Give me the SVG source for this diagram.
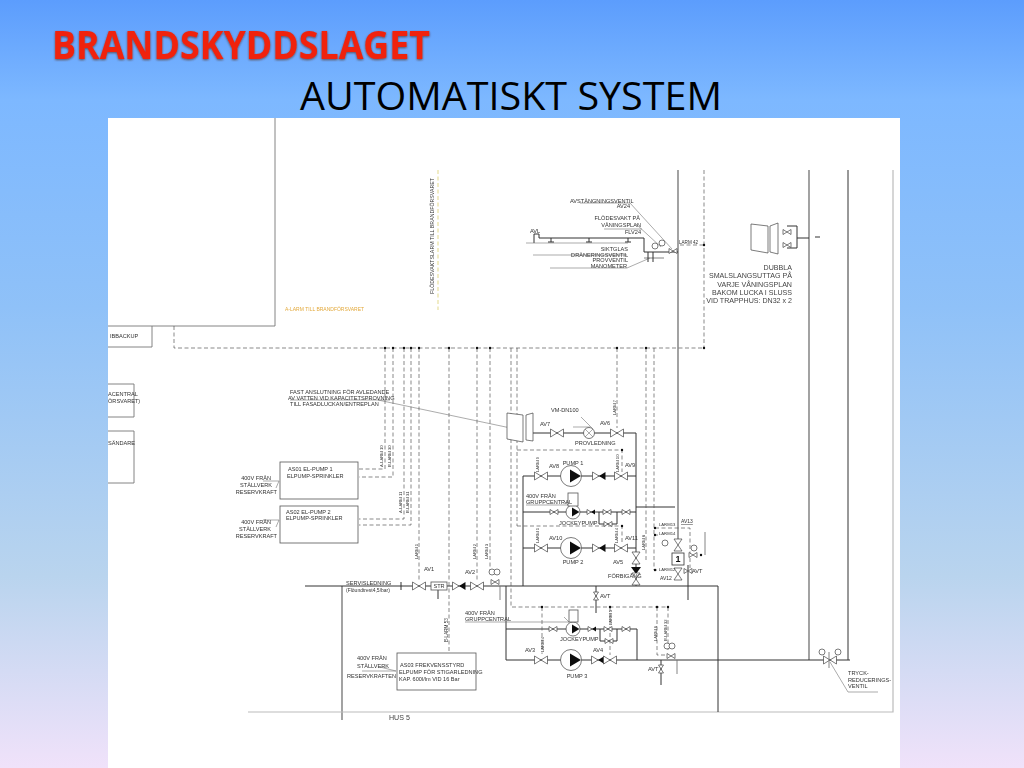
<svg xmlns="http://www.w3.org/2000/svg" width="1024" height="768" viewBox="0 0 1024 768">
<style>
text{font-family:"Liberation Sans",Arial,sans-serif;fill:#333;font-size:5.6px}
.t{font-size:7.1px;fill:#444}
.m{font-size:6px}
.e{text-anchor:end}.c{text-anchor:middle}
.r{font-size:4.2px}
.p{fill:none;stroke:#333;stroke-width:1}
.g{fill:none;stroke:#8c8c8c;stroke-width:1.6}
.b{fill:none;stroke:#777;stroke-width:.9}
.f{fill:none;stroke:#bbb;stroke-width:1.2}
.l{fill:none;stroke:#666;stroke-width:.55}
.d{fill:none;stroke:#555;stroke-width:.7;stroke-dasharray:4 2.5}
.y{fill:none;stroke:#e8e0a0;stroke-width:1.2;stroke-dasharray:4 2.5}
.vf{fill:#fff;stroke:#444;stroke-width:.7}
.k{fill:#111}
.o{fill:#fff;stroke:#555;stroke-width:.8}
</style>
<defs>
<linearGradient id="bg" x1="0" y1="0" x2="0" y2="1">
<stop offset="0" stop-color="#5c9dfd"/><stop offset=".13" stop-color="#7db8ff"/><stop offset=".4" stop-color="#8fc1f8"/><stop offset=".75" stop-color="#b9d4ee"/><stop offset="1" stop-color="#f0e2fa"/>
</linearGradient>
<filter id="soft" x="-2%" y="-2%" width="104%" height="104%"><feGaussianBlur stdDeviation=".3"/></filter>
<filter id="sh" x="-5%" y="-20%" width="110%" height="140%"><feDropShadow dx="0" dy="1" stdDeviation="1" flood-color="#552211" flood-opacity=".7"/></filter>
<g id="v"><path class="vf" d="M-6.5,-4 L0,0 L-6.5,4Z M6.5,-4 L0,0 L6.5,4Z"/></g>
<g id="vv"><path class="vf" d="M-4,-6 L0,0 L4,-6Z M-4,6 L0,0 L4,6Z"/></g>
<g id="sv"><path class="vf" d="M-4,-2.5 L0,0 L-4,2.5Z M4,-2.5 L0,0 L4,2.5Z"/></g>
<g id="sk"><path class="vf" d="M-4,-2.5 L0,0 L-4,2.5Z"/><path class="k" d="M4,-2.5 L0,0 L4,2.5Z"/></g>
<g id="ck"><path class="vf" d="M-6.5,-4 L0,0 L-6.5,4Z"/><path class="k" d="M6.5,-4 L0,0 L6.5,4Z"/></g>
<g id="pm"><circle class="vf" r="10.5"/><path class="k" d="M-1,-6.5 L10,0 L-1,6.5Z"/></g>
<g id="jp"><circle class="vf" r="7"/><path class="k" d="M-1,-4.5 L6.5,0 L-1,4.5Z"/></g>
<g id="ga"><circle class="vf" r="3"/></g>
<g id="dot"><circle class="k" r="1.2"/></g>
</defs>
<rect id="background" width="1024" height="768" fill="url(#bg)"/>
<g id="heading">
<text x="52" y="59" style="font-family:'Open Sans',sans-serif;font-size:40px;font-weight:700;fill:#f0230f" textLength="378" lengthAdjust="spacingAndGlyphs" filter="url(#sh)">BRANDSKYDDSLAGET</text>
<text x="300" y="110" style="font-family:'Open Sans',sans-serif;font-size:38px;fill:#000" textLength="422" lengthAdjust="spacingAndGlyphs">AUTOMATISKT SYSTEM</text>
</g>
<rect id="panel" x="108" y="118" width="792" height="650" fill="#fff"/>
<g filter="url(#soft)">
<g id="connectors">
<path class="g" d="M678,170V540M809,170V660M342,586V720"/>
<path class="f" d="M893,170V712H248"/>
<path class="b" d="M108,326H275V118"/>
<path class="p" d="M848,170V660M305,586H718V712M506,586V660H850M506,629H637V660M523,586V476H636M636,433V586M523,548H636M523,512H636M636,507H675M530,433H636M599,512V524H617V512M600,629V641H617V629M539,238H644V252H678M539,238V234H534V243M797,226V248M787,226H797M787,248H797M797,238H809M815,237H820M688,565V600M596,586V613M661,660V685M438,590V599M401,582V590"/>
<path class="b" d="M705,532V555M500,586V600M677,660V674M644,258H664"/>
<path class="d" d="M174,326V348H704M704,170V348M680,245H704M385,348V469H359M393,348V477H359M404,348V519H359M411,348V525H359M419,348V581M449,348V652M477,348V581M490,348V575M511,348V607H668V650M517,348V526M517,450H622V472M517,526H622V544M617,348V428M646,348V562M654,348V570H660M655,528H690V568M542,607V654M610,607V655M657,607V655H668M654,535H660"/>
<path class="y" d="M438,170V310"/>
<g id="junctions" class="k"><circle cx="385" cy="348" r="1.2"/><circle cx="393" cy="348" r="1.2"/><circle cx="404" cy="348" r="1.2"/><circle cx="411" cy="348" r="1.2"/><circle cx="419" cy="348" r="1.2"/><circle cx="449" cy="348" r="1.2"/><circle cx="477" cy="348" r="1.2"/><circle cx="490" cy="348" r="1.2"/><circle cx="617" cy="348" r="1.2"/><circle cx="646" cy="348" r="1.2"/><circle cx="704" cy="348" r="1.2"/><circle cx="704" cy="245" r="1.2"/><circle cx="622" cy="450" r="1.2"/><circle cx="622" cy="526" r="1.2"/><circle cx="542" cy="607" r="1.2"/><circle cx="610" cy="607" r="1.2"/><circle cx="657" cy="607" r="1.2"/><circle cx="668" cy="607" r="1.2"/></g>
<path class="l" d="M378,400 520,430M290,400H390M580,203H630L672,249M636,224 661,247M604,229H642M550,268H627L650,258M533,255H627M526,243H628M263,481H279L276,488M263,520H279L276,527M362,671H396M573,427 590,427M581,417 593,429M526,505H568L563,500M465,622H569L564,617M830,662 848,692H878M380,667 396,671"/>
</g>
<g id="left-boxes">
<g id="box-backup"><path class="b" d="M108,347H152V326"/><text x="110" y="338">IBBACKUP</text></g>
<g id="box-central"><path class="b" d="M108,384H134V417H108"/><text x="108" y="396">ACENTRAL</text><text x="108" y="403">ÖRSVARET)</text></g>
<g id="box-sandare"><path class="b" d="M108,431H134V483H108"/><text x="108" y="445">SÄNDARE</text></g>
</g>
<g id="node-as01"><rect class="o" x="280" y="462" width="78" height="37"/><text x="288" y="471">AS01  EL-PUMP 1</text><text x="287" y="478">ELPUMP-SPRINKLER</text><text x="271" y="480" class="e">400V FRÅN</text><text x="272" y="487" class="e">STÄLLVERK</text><text x="277" y="494" class="e">RESERVKRAFT</text></g>
<g id="node-as02"><rect class="o" x="280" y="506" width="78" height="37"/><text x="286" y="514">AS02  EL-PUMP 2</text><text x="286" y="520">ELPUMP-SPRINKLER</text><text x="271" y="524" class="e">400V FRÅN</text><text x="271" y="531" class="e">STÄLLVERK</text><text x="277" y="538" class="e">RESERVKRAFT</text></g>
<g id="node-as03"><rect class="o" x="397" y="653" width="79" height="37"/><text x="400" y="667">AS03  FREKVENSSTYRD</text><text x="399" y="674">ELPUMP FÖR STIGARLEDNING</text><text x="399" y="681">KAP. 600l/lm VID 16 Bar</text><text x="357" y="660">400V FRÅN</text><text x="357" y="668">STÄLLVERK</text><text x="347" y="678">RESERVKRAFTEN</text></g>
<g id="notes">
<text x="285" y="311" style="fill:#e3a93c;font-size:5px">A-LARM TILL BRANDFÖRSVARET</text>
<text transform="translate(434,294) rotate(-90)" style="font-size:5.2px" textLength="116">FLÖDESVAKTSLARM TILL BRANDFÖRSVARET</text>
<text x="290" y="394">FAST ANSLUTNING  FÖR AVLEDANDE</text><text x="288" y="400">AV VATTEN VID KAPACITETSPROVNING</text><text x="290" y="406">TILL FASADLUCKAN/ENTREPLAN</text>
<text x="346" y="585">SERVISLEDNING</text><text x="346" y="592" style="font-size:5px">(Flöundtrest4,5/bar)</text>
<text x="389" y="720" class="t">HUS 5</text>
<text x="465" y="615">400V FRÅN</text><text x="465" y="621">GRUPPCENTRAL</text>
<text transform="translate(448,642) rotate(-90)" style="font-size:4.6px">B-LARM 53</text>
<text transform="translate(383,467) rotate(-90)" class="r">A-LARM 10</text>
<text transform="translate(391,467) rotate(-90)" class="r">B-LARM 30</text>
<text transform="translate(402,513) rotate(-90)" class="r">A-LARM 11</text>
<text transform="translate(409,513) rotate(-90)" class="r">B-LARM 31</text>
<text transform="translate(418,559) rotate(-90)" class="r">LARM 1</text>
<text transform="translate(476,559) rotate(-90)" class="r">LARM 2</text>
<text transform="translate(488,559) rotate(-90)" class="r">LARM 3</text>
</g>
<g id="top-branch">
<use href="#ga" x="655" y="246"/><use href="#ga" x="662" y="243"/><use href="#sv" x="673" y="251"/>
<path class="p" d="M551,238V242M548,242H554M589,238V242M586,242H592M628,238V242M625,242H631M648,252V262M653,252V262"/>
<text x="570" y="203">AVSTÄNGNINGSVENTIL</text><text x="630" y="208" class="e">AV24</text>
<text x="640" y="220" class="e">FLÖDESVAKT PÅ</text><text x="641" y="227" class="e">VÅNINGSPLAN</text><text x="641" y="234" class="e">FLV24</text>
<text x="530" y="233">AVL</text>
<text x="628" y="251" class="e">SIKTGLAS</text><text x="628" y="257" class="e">DRÄNERINGSVENTIL</text><text x="628" y="262" class="e">PROVVENTIL</text><text x="627" y="268" class="e">MANOMETER</text>
<text x="679" y="244" style="font-size:4.6px">LARM 42</text>
</g>
<g id="hose-cabinet-top">
<path class="vf" d="M751,224 768,226V253L751,250Z M770,226 778,223V254L770,252Z"/>
<use href="#sv" x="787" y="232"/><use href="#sv" x="787" y="245"/>
<text x="792" y="270" class="t e">DUBBLA</text><text x="792" y="278" class="t e">SMALSLANGSUTTAG PÅ</text><text x="792" y="287" class="t e">VARJE VÅNINGSPLAN</text><text x="792" y="295" class="t e">BAKOM LUCKA I SLUSS</text><text x="792" y="303" class="t e">VID TRAPPHUS: DN32 x 2</text>
</g>
<g id="hose-cabinet-test">
<path class="vf" d="M507,413 523,415V442L507,439Z M526,415 533,413V441L526,440Z"/>
<use href="#v" x="557" y="433"/><circle class="vf" cx="589" cy="433" r="5.5"/><path class="l" d="M585,429 593,437M593,429 585,437"/><use href="#v" x="617" y="433"/>
<text x="540" y="426">AV7</text><text x="551" y="412">VM-DN100</text><text x="600" y="425">AV6</text><text x="575" y="445">PROVLEDNING</text>
<text transform="translate(616,415) rotate(-90)" class="r">LARM 7</text>
</g>
<g id="pump-1"><use href="#v" x="541" y="476"/><use href="#pm" x="571" y="476"/><use href="#ck" x="599" y="476"/><use href="#v" x="621" y="476"/>
<text x="573" y="465" class="c">PUMP 1</text><text x="549" y="468">AV8</text><text x="625" y="467">AV9</text>
<text transform="translate(539,472) rotate(-90)" class="r">LARM 9</text><text transform="translate(619,472) rotate(-90)" class="r">LARM 10</text></g>
<g id="jockey-1"><use href="#sv" x="554" y="512"/><use href="#jp" x="573" y="512"/><use href="#sk" x="591" y="512"/><use href="#sv" x="607" y="512"/><use href="#sv" x="608" y="524"/><use href="#sv" x="626" y="512"/>
<rect class="o" x="568" y="493" width="10" height="13"/>
<text x="526" y="498">400V FRÅN</text><text x="526" y="504">GRUPPCENTRAL</text><text x="559" y="525">JOCKEYPUMP</text></g>
<g id="pump-2"><use href="#v" x="541" y="548"/><use href="#pm" x="571" y="548"/><use href="#ck" x="599" y="548"/><use href="#v" x="621" y="548"/>
<text x="573" y="564" class="c">PUMP 2</text><text x="549" y="540">AV10</text><text x="625" y="540">AV11</text>
<text transform="translate(539,543) rotate(-90)" class="r">LARM 1</text><text transform="translate(618,543) rotate(-90)" class="r">LARM 4</text><text transform="translate(645,550) rotate(-90)" class="r">LARM 8</text></g>
<g id="bypass"><use href="#vv" x="636" y="558"/><path class="k" d="M631,567H641L636,574Z"/><use href="#vv" x="636" y="579"/><text x="613" y="564">AV5</text><text x="608" y="578">FÖRBIGÅNG</text></g>
<g id="alarm-valve"><use href="#vv" x="678" y="545"/><rect class="o" x="672" y="553" width="12" height="12" style="stroke:#333"/><text x="678" y="562" class="c" style="font-size:9px;font-weight:700;fill:#111">1</text><use href="#vv" x="678" y="574"/><use href="#ga" x="665" y="543"/><use href="#ga" x="694" y="548"/><use href="#sv" x="693" y="555"/><use href="#dot" x="701" y="555"/><use href="#sv" x="688" y="571"/><text x="692" y="573">AVT</text>
<text x="659" y="526" class="r">LARM13</text><text x="681" y="523" style="text-decoration:underline;font-size:5px">AV13</text><text x="659" y="535" class="r">LARM14</text><text x="659" y="571" class="r">LARM12</text><text x="660" y="580" style="text-decoration:underline;font-size:5px">AV12</text>
<use href="#dot" x="655" y="528"/><use href="#dot" x="655" y="535"/><use href="#dot" x="655" y="570"/></g>
<g id="service-line"><use href="#v" x="419" y="586"/><rect class="o" x="431" y="582" width="16" height="8"/><text x="439" y="588" class="c">STR</text><use href="#ck" x="459" y="586"/><use href="#v" x="477" y="586"/><use href="#ga" x="492" y="572"/><use href="#ga" x="497" y="572"/><use href="#sv" x="495" y="582"/><text x="424" y="571">AV1</text><text x="465" y="574">AV2</text></g>
<g id="pump-3"><use href="#v" x="541" y="660"/><use href="#pm" x="571" y="660"/><use href="#ck" x="598" y="660"/><use href="#v" x="610" y="660"/><text x="577" y="678" class="c">PUMP 3</text><text x="525" y="652">AV3</text><text x="593" y="652">AV4</text><text transform="translate(544,652) rotate(-90)" class="r">LARM 4</text></g>
<g id="jockey-2"><use href="#sv" x="553" y="629"/><use href="#jp" x="573" y="629"/><use href="#sk" x="592" y="629"/><use href="#sv" x="608" y="629"/><use href="#sv" x="609" y="641"/><use href="#sv" x="626" y="629"/><rect class="o" x="569" y="610" width="9" height="12"/><text x="560" y="641">JOCKEYPUMP</text><text transform="translate(612,625) rotate(-90)" class="r">LARM 5</text></g>
<g id="avt-valves"><use href="#sv" transform="translate(596,596) rotate(90)"/><text x="600" y="598">AVT</text><use href="#sv" transform="translate(661,669) rotate(90)"/><text x="648" y="671">AVT</text><use href="#ga" x="667" y="646"/><use href="#ga" x="672" y="646"/><use href="#sv" x="671" y="656"/><text transform="translate(657,641) rotate(-90)" class="r">LARM 6</text><text transform="translate(667,641) rotate(-90)" class="r">B-LARM 32</text></g>
<g id="pressure-reducer"><use href="#ga" x="822" y="652"/><use href="#ga" x="838" y="652"/><use href="#v" x="830" y="660"/><path class="b" d="M829,652V668"/><text x="848" y="675">TRYCK-</text><text x="848" y="682">REDUCERINGS-</text><text x="848" y="688">VENTIL</text></g>
</g>
</svg>
